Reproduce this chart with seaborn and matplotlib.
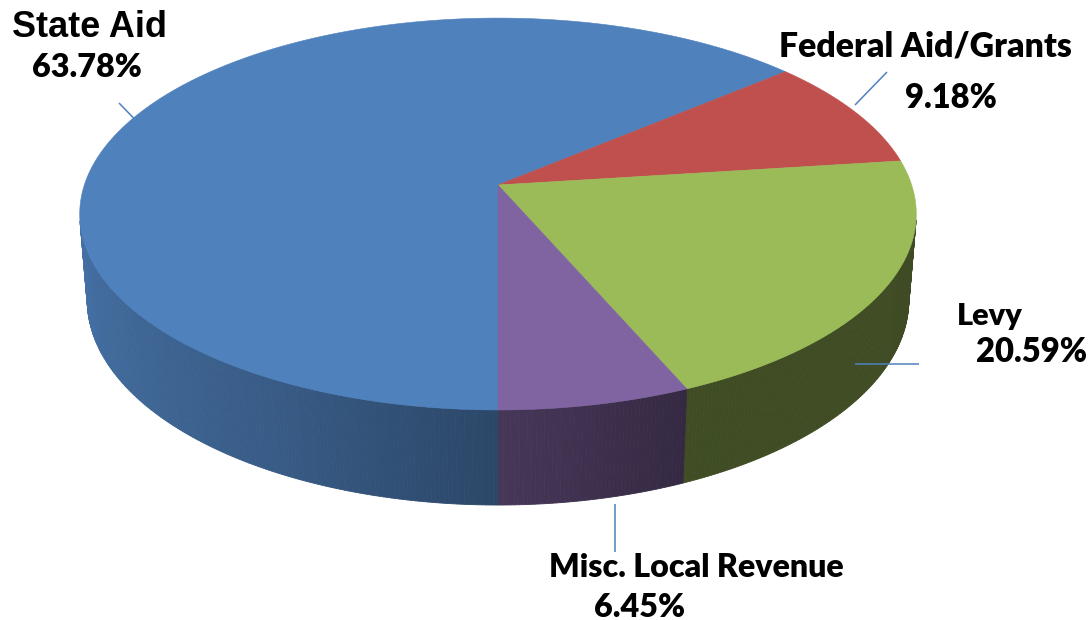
import numpy as np
import matplotlib
matplotlib.use("Agg")
import matplotlib.pyplot as plt
import seaborn as sns
from matplotlib.colors import to_rgb

# ---------------- data ----------------
categories = ["State Aid", "Federal Aid/Grants", "Levy", "Misc. Local Revenue"]
shares = [63.78, 9.18, 20.59, 6.45]
slice_colors = ["#4F81BD", "#C0504D", "#9BBB59", "#8064A2"]

# ---------------- layout ----------------
# label lines: (left x, baseline y, target width) for name and percentage
name_pos = [(12, 37, 155), (779, 57, 293), (957, 325, 66), (549, 577, 296)]
pct_pos = [(32, 77, 110), (905, 108, 92), (976, 362, 111), (594, 617, 91)]
name_fonts = [["Liberation Sans", "DejaVu Sans"], ["Lato", "DejaVu Sans"],
              ["Lato", "DejaVu Sans"], ["Lato", "DejaVu Sans"]]
name_weights = ["bold", "heavy", "heavy", "heavy"]
leaders = [((119, 103), (150, 135)), ((887, 72), (855, 105)),
           ((855, 364), (919, 364)), ((615, 504), (615, 552))]

sns.set_theme(style="white")
W, H = 1091, 620
fig = plt.figure(figsize=(W / 100, H / 100), dpi=100)
ax = fig.add_axes([0, 0, 1, 1])
ax.set_xlim(0, W)
ax.set_ylim(H, 0)
ax.axis("off")

# ---------------- 3D perspective pie ----------------
D = 6.0
phi = np.deg2rad(27.3)
s, c = np.sin(phi), np.cos(phi)
h = 0.2335
kx, ky = 2482, 2507
cx, cy = 498, 185


def proj(X, Y, Z):
    vy = Y - D * s
    vz = Z - D * c
    depth = -(vy * s + vz * c)
    sx = X / depth
    sy = (vy * c - vz * s) / depth
    return cx + kx * sx, cy - ky * sy


def rim(psi_deg, Y):
    p = np.deg2rad(psi_deg)
    return proj(-np.sin(p), Y, np.cos(p))


def shade(beta):
    return np.interp(beta, [-90, -23, 0, 28, 79, 90],
                     [0.40, 0.41, 0.55, 0.71, 0.88, 0.88])


vis_lim = np.rad2deg(np.arccos(1.0 / (D * c)))

bounds = np.concatenate([[0], np.cumsum(shares)]) * 3.6
quads = []
for i in range(len(shares)):
    a0, a1 = bounds[i], bounds[i + 1]
    n = max(int((a1 - a0) / 0.5), 2)
    edges = np.linspace(a0, a1, n + 1)
    base = np.array(to_rgb(slice_colors[i]))
    for e0, e1 in zip(edges[:-1], edges[1:]):
        m = 0.5 * (e0 + e1)
        beta = ((m + 180) % 360) - 180
        if abs(beta) > vis_lim + 0.5:
            continue
        x0t, y0t = rim(e0, 0)
        x1t, y1t = rim(e1, 0)
        x0b, y0b = rim(e0, -h)
        x1b, y1b = rim(e1, -h)
        col = np.clip(base * shade(beta), 0, 1)
        quads.append((abs(beta), [x0t, x1t, x1b, x0b], [y0t, y1t, y1b, y0b], col))

quads.sort(key=lambda q: -q[0])
for _, xs, ys, col in quads:
    ax.fill(xs, ys, facecolor=col, edgecolor=col, linewidth=0.6, zorder=2)

pcx, pcy = proj(0, 0, 0)
for i in range(len(shares)):
    a0, a1 = bounds[i], bounds[i + 1]
    ang = np.linspace(a0, a1, max(int((a1 - a0) * 2), 4))
    xs, ys = zip(*[rim(a, 0) for a in ang])
    ax.fill([pcx, *xs], [pcy, *ys], facecolor=slice_colors[i],
            edgecolor=slice_colors[i], linewidth=0.4, zorder=3)

# ---------------- leader lines ----------------
for (p0, p1) in leaders:
    ax.plot([p0[0], p1[0]], [p0[1], p1[1]], color="#4F81BD", lw=1.1,
            zorder=4, solid_capstyle="butt")

# ---------------- labels ----------------
renderer = fig.canvas.get_renderer()


def fit_text(x, yb, target_w, txt, family, weight):
    t = ax.text(x, yb, txt, fontsize=20, fontweight=weight, family=family,
                ha="left", va="baseline", color="black", zorder=5)
    bb = t.get_window_extent(renderer=renderer)
    t.set_fontsize(20 * target_w / bb.width)
    return t


for i, cat in enumerate(categories):
    x, yb, w = name_pos[i]
    fit_text(x, yb, w, cat, name_fonts[i], name_weights[i])
    x, yb, w = pct_pos[i]
    fit_text(x, yb, w, f"{shares[i]:.2f}%", ["Lato", "DejaVu Sans"], "heavy")

fig.savefig("out.png", dpi=100, facecolor="white")
